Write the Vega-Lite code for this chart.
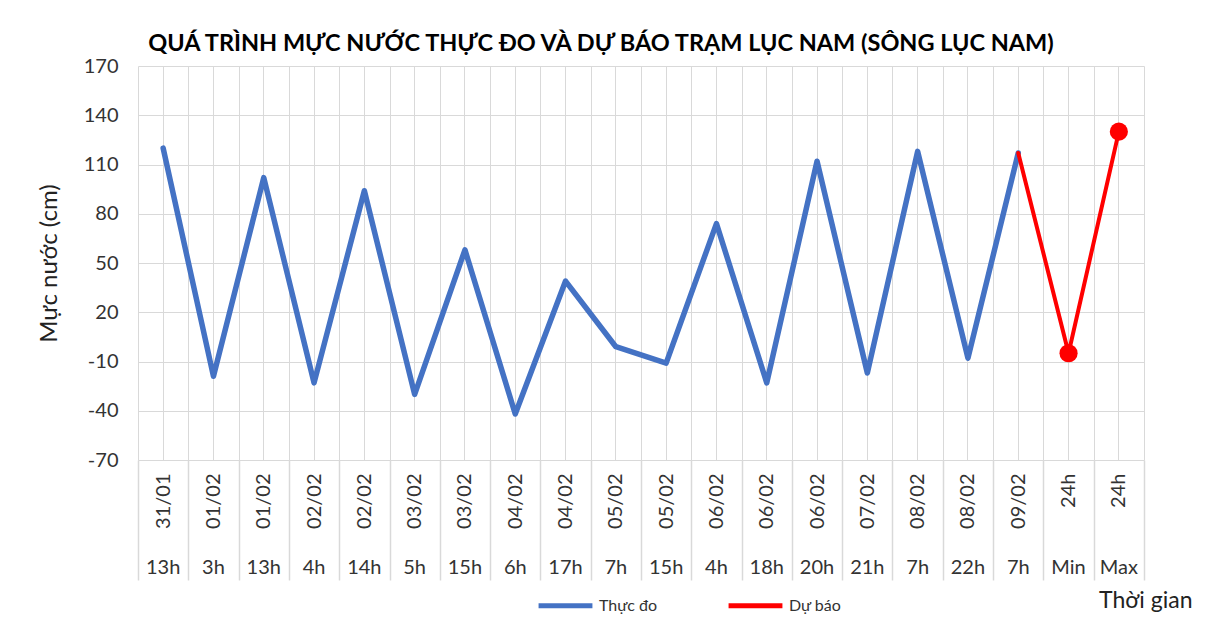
{
  "$schema": "https://vega.github.io/schema/vega-lite/v6.json",
  "width": 1006,
  "height": 394,
  "autosize": {"type": "none"},
  "padding": {"left": 138, "top": 66, "right": 73, "bottom": 159},
  "background": "white",
  "config": {"font": "Lato", "view": {"stroke": null}},
  "title": {
    "text": "QUÁ TRÌNH MỰC NƯỚC THỰC ĐO VÀ DỰ BÁO TRẠM LỤC NAM (SÔNG LỤC NAM)",
    "fontSize": 23.5,
    "fontWeight": "bold",
    "color": "#000000",
    "anchor": "middle",
    "frame": "group",
    "dx": -40,
    "offset": 1
  },
  "data": {
    "values": [
      {"i": 1, "k": "31/01 13h", "v": 120, "s": "Thực đo"},
      {"i": 2, "k": "01/02 3h", "v": -19, "s": "Thực đo"},
      {"i": 3, "k": "01/02 13h", "v": 102, "s": "Thực đo"},
      {"i": 4, "k": "02/02 4h", "v": -23, "s": "Thực đo"},
      {"i": 5, "k": "02/02 14h", "v": 94, "s": "Thực đo"},
      {"i": 6, "k": "03/02 5h", "v": -30, "s": "Thực đo"},
      {"i": 7, "k": "03/02 15h", "v": 58, "s": "Thực đo"},
      {"i": 8, "k": "04/02 6h", "v": -42, "s": "Thực đo"},
      {"i": 9, "k": "04/02 17h", "v": 39, "s": "Thực đo"},
      {"i": 10, "k": "05/02 7h", "v": -1, "s": "Thực đo"},
      {"i": 11, "k": "05/02 15h", "v": -11, "s": "Thực đo"},
      {"i": 12, "k": "06/02 4h", "v": 74, "s": "Thực đo"},
      {"i": 13, "k": "06/02 18h", "v": -23, "s": "Thực đo"},
      {"i": 14, "k": "06/02 20h", "v": 112, "s": "Thực đo"},
      {"i": 15, "k": "07/02 21h", "v": -17, "s": "Thực đo"},
      {"i": 16, "k": "08/02 7h", "v": 118, "s": "Thực đo"},
      {"i": 17, "k": "08/02 22h", "v": -8, "s": "Thực đo"},
      {"i": 18, "k": "09/02 7h", "v": 117, "s": "Thực đo"},
      {"i": 18, "k": "09/02 7h", "v": 117, "s": "Dự báo"},
      {"i": 19, "k": "24h Min", "v": -5, "s": "Dự báo"},
      {"i": 20, "k": "24h Max", "v": 130, "s": "Dự báo"}
    ]
  },
  "encoding": {
    "x": {
      "field": "k",
      "type": "nominal",
      "sort": {"field": "i", "op": "min"},
      "scale": {"type": "band", "paddingInner": 0, "paddingOuter": 0}
    },
    "y": {
      "field": "v",
      "type": "quantitative",
      "scale": {"domain": [-70, 170], "nice": false, "zero": false},
      "axis": {
        "values": [-70, -40, -10, 20, 50, 80, 110, 140, 170],
        "labelExpr": "'' + datum.value",
        "title": "Mực nước (cm)",
        "titleFontSize": 24,
        "titleFontWeight": "normal",
        "titleColor": "#222222",
        "titlePadding": 22,
        "labelFontSize": 20,
        "labelColor": "#333333",
        "labelPadding": 20,
        "domain": false,
        "ticks": false,
        "grid": true,
        "gridColor": "#d9d9d9",
        "gridWidth": 1
      }
    }
  },
  "layer": [
    {
      "transform": [{"filter": "datum.s === 'Thực đo'"}],
      "mark": {"type": "line", "strokeWidth": 5.5, "strokeCap": "round", "strokeJoin": "round"},
      "encoding": {
        "x": {
          "field": "k",
          "type": "nominal",
          "sort": {"field": "i", "op": "min"},
          "axis": {
            "orient": "bottom",
            "title": null,
            "labelExpr": "split(datum.label, ' ')[0]",
            "labelAngle": -90,
            "labelAlign": "right",
            "labelBaseline": "middle",
            "labelPadding": -107,
            "labelFontSize": 20,
            "labelColor": "#333333",
            "tickBand": "extent",
            "tickSize": 120,
            "tickColor": "#d9d9d9",
            "tickWidth": 1.5,
            "domain": false,
            "grid": true,
            "gridColor": "#d9d9d9",
            "labelOverlap": false
          }
        },
        "color": {
          "field": "s",
          "type": "nominal",
          "scale": {"domain": ["Thực đo", "Dự báo"], "range": ["#4472C4", "#FF0000"]},
          "legend": {
            "orient": "none",
            "legendX": 398,
            "legendY": 510,
            "direction": "horizontal",
            "title": null,
            "symbolType": "stroke",
            "symbolSize": 2900,
            "symbolStrokeWidth": 5,
            "labelFontSize": 16,
            "labelColor": "#333333",
            "columnPadding": 60,
            "labelOffset": 4
          }
        }
      }
    },
    {
      "transform": [{"filter": "datum.s === 'Dự báo'"}],
      "mark": {"type": "line", "strokeWidth": 4, "strokeCap": "round", "strokeJoin": "round"},
      "encoding": {
        "x": {
          "field": "k",
          "type": "nominal",
          "sort": {"field": "i", "op": "min"},
          "axis": {
            "orient": "bottom",
            "title": "Thời gian",
            "titleFontSize": 23,
            "titleFontWeight": "normal",
            "titleColor": "#222222",
            "titleX": 1054,
            "titleY": 147,
            "titleAlign": "right",
            "titleAnchor": null,
            "titleBaseline": "alphabetic",
            "labelExpr": "split(datum.label, ' ')[1]",
            "labelAngle": 0,
            "labelAlign": "center",
            "labelBaseline": "middle",
            "labelPadding": 107,
            "labelFontSize": 20,
            "labelColor": "#333333",
            "ticks": false,
            "domain": false,
            "grid": true,
            "gridColor": "#d9d9d9",
            "labelOverlap": false
          }
        },
        "color": {"field": "s", "type": "nominal", "legend": null}
      }
    },
    {
      "transform": [{"filter": "datum.s === 'Dự báo' && datum.i > 18"}],
      "mark": {"type": "point", "filled": true, "size": 330, "opacity": 1, "color": "#FF0000"},
      "encoding": {
        "x": {"field": "k", "type": "nominal", "sort": {"field": "i", "op": "min"}, "axis": null}
      }
    }
  ],
  "resolve": {"axis": {"x": "independent"}}
}
